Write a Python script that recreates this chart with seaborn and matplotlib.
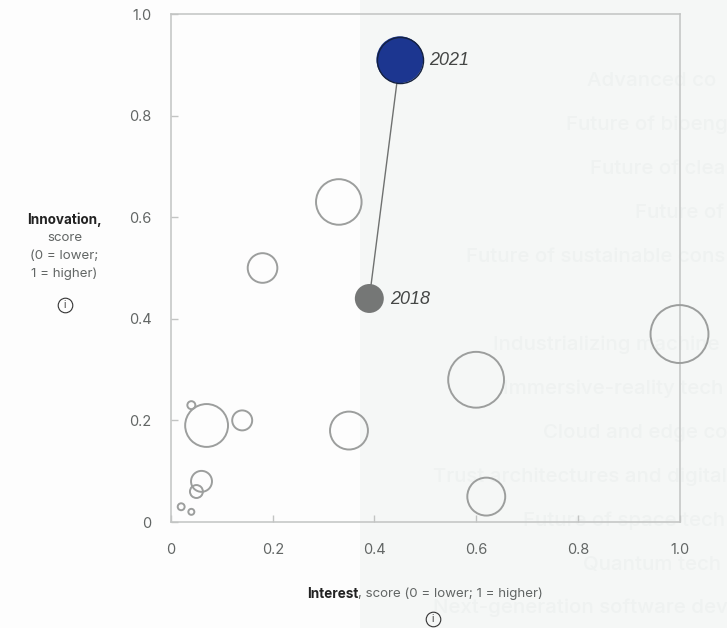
import matplotlib.pyplot as plt
import pandas as pd
import seaborn as sns
from matplotlib.lines import Line2D
from matplotlib.patches import Rectangle

# other technology trends, all in outline
interest = [0.33, 0.18, 1.0, 0.60, 0.35, 0.62, 0.07, 0.14, 0.04, 0.06, 0.05, 0.02, 0.04]
innovation = [0.63, 0.50, 0.37, 0.28, 0.18, 0.05, 0.19, 0.20, 0.23, 0.08, 0.06, 0.03, 0.02]
bubble = [52, 22, 84, 78, 36, 36, 46, 10, 1.6, 11, 4.2, 1.2, 0.9]

# highlighted trend
years = ["2018", "2021"]
year_interest = [0.39, 0.45]
year_innovation = [0.44, 0.91]
year_bubble = [21, 55]

ticks = [0, 0.2, 0.4, 0.6, 0.8, 1.0]
tick_labels = ["0", "0.2", "0.4", "0.6", "0.8", "1.0"]

# faded trend names showing through from the panel behind, as far as they are visible
ghost_labels = [
    "Advanced co",
    "Future of bioeng",
    "Future of clea",
    "Future of",
    "Future of sustainable cons",
    "Industrializing machine",
    "Immersive-reality tech",
    "Cloud and edge co",
    "Trust architectures and digital",
    "Future of space tech",
    "Quantum tech",
    "Next-generation software dev",
]
ghost_left = [587, 566, 590, 635, 466, 493, 503, 543, 433, 523, 583, 433]
ghost_top = [81, 125, 169, 213, 257, 345, 389, 433, 477, 521, 565, 608]

W, H = 727, 628
GREY_TEXT = "#626665"
LINE = "#c2c4c3"

plt.rcParams["font.family"] = ["Inter", "DejaVu Sans"]

fig = plt.figure(figsize=(W / 100, H / 100), dpi=100, facecolor="#fdfdfd")
fig.add_artist(Rectangle((360 / W, 0), 1 - 360 / W, 1, transform=fig.transFigure,
                         color="#f5f7f6", lw=0, zorder=-3))

for name, left, top in zip(ghost_labels, ghost_left, ghost_top):
    fig.text(left / W, 1 - top / H, name, fontsize=14.7, fontweight="medium",
             color="#eff2f1", va="center", ha="left", zorder=-2)

ax = fig.add_axes([171 / W, 1 - 522 / H, 508.5 / W, 508 / H])
ax.patch.set_alpha(0)

points = pd.DataFrame({"interest": interest, "innovation": innovation, "bubble": bubble})
sns.scatterplot(data=points, x="interest", y="innovation", size="bubble",
                sizes=(0, 2070), size_norm=(0, 100), legend=False, ax=ax,
                facecolor="none", edgecolor="#9c9e9d", linewidth=1.4,
                clip_on=False, zorder=3)

highlight = pd.DataFrame({"interest": year_interest, "innovation": year_innovation,
                          "bubble": year_bubble, "year": years})
sns.lineplot(data=highlight, x="interest", y="innovation", sort=False, color="#6f7170",
             linewidth=1, ax=ax, zorder=4, estimator=None)
sns.scatterplot(data=highlight, x="interest", y="innovation", size="bubble", hue="year",
                palette={"2018": "#757776", "2021": "#1c3690"},
                sizes=(0, 2070), size_norm=(0, 100), legend=False, ax=ax,
                linewidth=0, clip_on=False, zorder=5)
# dark ring on the 2021 bubble only
ax.plot(year_interest[1:], year_innovation[1:], "o", ms=33.2, mfc="none",
        mec="#14213f", mew=1, zorder=6)

for year, x, y, dx in zip(years, year_interest, year_innovation, [15, 21]):
    ax.annotate(year, (x, y), xytext=(dx, -0.5), textcoords="offset points", fontsize=13,
                style="italic", family="Liberation Sans", color="#454746",
                va="center", ha="left", zorder=7)

ax.set_xlim(0, 1)
ax.set_ylim(0, 1)
ax.set_xticks(ticks, tick_labels)
ax.set_yticks(ticks, tick_labels)
ax.set_xlabel("")
ax.set_ylabel("")
ax.tick_params(direction="in", length=5, width=1, color=LINE, labelcolor=GREY_TEXT,
               labelsize=10.5)
ax.tick_params(axis="x", pad=15)
ax.tick_params(axis="y", pad=14)
for spine in ax.spines.values():
    spine.set_color(LINE)
    spine.set_linewidth(1.1)


def info_icon(cx, cy):
    fig.add_artist(Line2D([cx / W], [1 - cy / H], marker="o", ms=10.5, mfc="none",
                          mec="#333333", mew=0.8, transform=fig.transFigure))
    fig.text(cx / W, 1 - cy / H, "i", fontsize=7, color="#333333", ha="center", va="center")


# axis captions sit outside the axes, centred like the original
fig.text(64.5 / W, 1 - 220 / H, "Innovation,", fontsize=9.7, fontweight="bold",
         color="#222222", ha="center", va="center")
for line, y in zip(["score", "(0 = lower;", "1 = higher)"], [238, 256, 274]):
    fig.text(64.5 / W, 1 - y / H, line, fontsize=9.6, color=GREY_TEXT, ha="center", va="center")
info_icon(65, 304.5)

cap = fig.text(307 / W, 1 - 594 / H, "Interest", fontsize=9.7, fontweight="bold",
               color="#222222", ha="left", va="center")
cap_right = cap.get_window_extent(fig.canvas.get_renderer()).x1
fig.text(cap_right / W, 1 - 594 / H, ", score (0 = lower; 1 = higher)", fontsize=9.6,
         color=GREY_TEXT, ha="left", va="center")
info_icon(433, 618.5)

fig.savefig("out.png", dpi=100, facecolor=fig.get_facecolor())
